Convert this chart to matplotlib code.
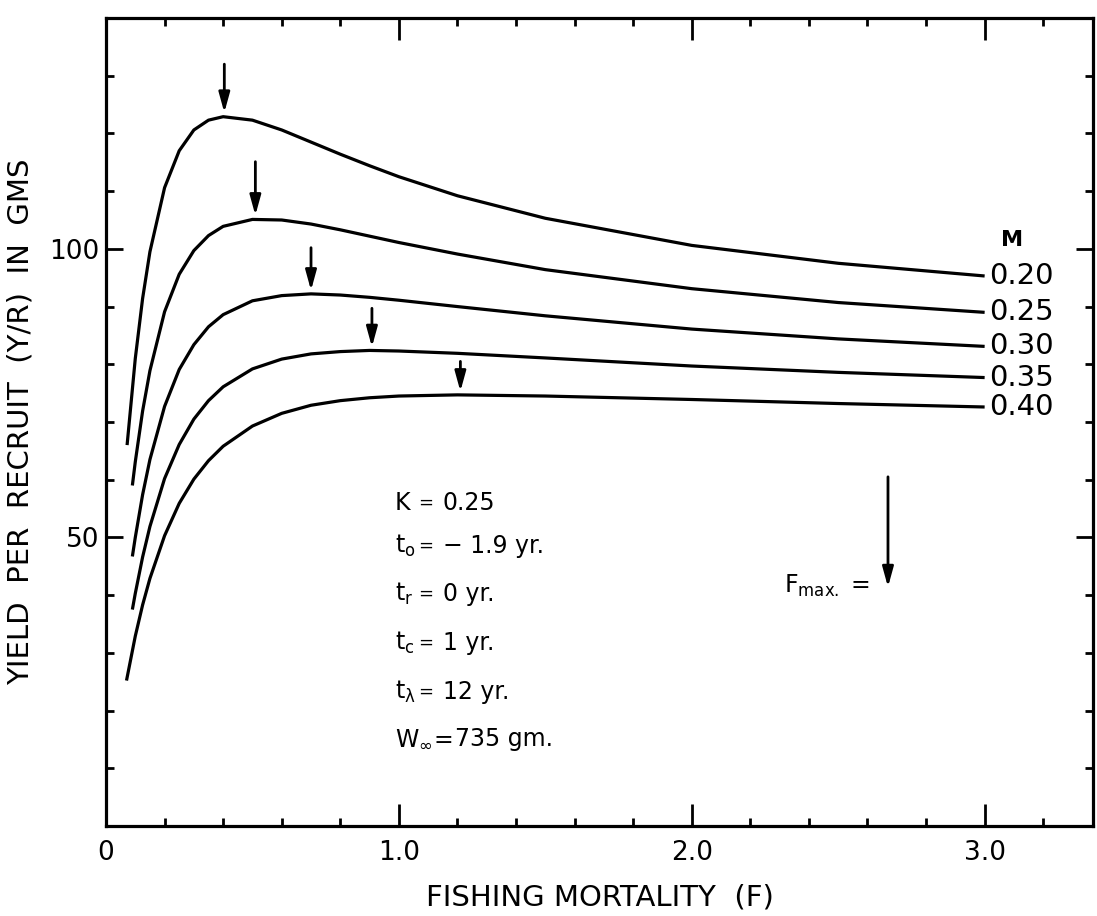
import matplotlib
matplotlib.use("Agg")
import matplotlib.pyplot as plt

# yield per recruit (Y/R, gms) against fishing mortality F, one curve per M
m_labels = ['0.20', '0.25', '0.30', '0.35', '0.40']

f_020 = [0.072, 0.1, 0.125, 0.15, 0.2, 0.25, 0.3, 0.35, 0.4, 0.5, 0.6, 0.7,
         0.8, 0.9, 1.0, 1.2, 1.5, 2.0, 2.5, 3.0]
y_020 = [66.0, 81.0, 91.4, 99.5, 110.6, 117.0, 120.6, 122.3, 122.9, 122.3, 120.6,
         118.5, 116.4, 114.4, 112.5, 109.2, 105.3, 100.6, 97.5, 95.3]

f_025 = [0.09, 0.1, 0.125, 0.15, 0.2, 0.25, 0.3, 0.35, 0.4, 0.5, 0.6, 0.7,
         0.8, 0.9, 1.0, 1.2, 1.5, 2.0, 2.5, 3.0]
y_025 = [59.0, 63.1, 71.9, 78.9, 89.1, 95.6, 99.7, 102.3, 103.9, 105.1, 105.0,
         104.3, 103.3, 102.2, 101.1, 99.1, 96.4, 93.1, 90.7, 89.0]

f_030 = [0.09, 0.1, 0.125, 0.15, 0.2, 0.25, 0.3, 0.35, 0.4, 0.5, 0.6, 0.7,
         0.8, 0.9, 1.0, 1.2, 1.5, 2.0, 2.5, 3.0]
y_030 = [46.7, 50.0, 57.4, 63.5, 72.7, 79.1, 83.4, 86.5, 88.6, 91.0, 91.9,
         92.2, 92.0, 91.6, 91.1, 90.0, 88.4, 86.1, 84.4, 83.1]

f_035 = [0.09, 0.1, 0.125, 0.15, 0.2, 0.25, 0.3, 0.35, 0.4, 0.5, 0.6, 0.7,
         0.8, 0.9, 1.0, 1.2, 1.5, 2.0, 2.5, 3.0]
y_035 = [37.5, 40.3, 46.6, 51.9, 60.2, 66.1, 70.5, 73.7, 76.1, 79.2, 80.9,
         81.8, 82.2, 82.4, 82.3, 81.9, 81.1, 79.7, 78.6, 77.7]

f_040 = [0.07, 0.1, 0.125, 0.15, 0.2, 0.25, 0.3, 0.35, 0.4, 0.5, 0.6, 0.7,
         0.8, 0.9, 1.0, 1.2, 1.5, 2.0, 2.5, 3.0]
y_040 = [25.2, 32.9, 38.3, 42.9, 50.3, 55.9, 60.1, 63.3, 65.8, 69.3, 71.5,
         72.9, 73.7, 74.2, 74.5, 74.7, 74.5, 73.9, 73.2, 72.6]

# F_max arrows above each peak
fmax_f = [0.404, 0.51, 0.70, 0.908, 1.21]
fmax_top = [132.0, 115.1, 100.2, 89.7, 80.5]
fmax_tip = [123.6, 105.8, 92.8, 83.0, 75.3]

# parameter block
param_names = ['K', '$t_o$', '$t_r$', '$t_c$', '$t_\\lambda$', '$W_\\infty$']
param_values = ['0.25', '\u2212 1.9 yr.', '0 yr.', '1 yr.', '12 yr.', '735 gm.']
param_y = [56.0, 48.5, 40.2, 31.7, 23.2, 15.1]

x_ticks = [0, 1, 2, 3]
x_ticklabels = ['0', '1.0', '2.0', '3.0']
y_ticks = [50, 100]
y_ticklabels = ['50', '100']

plt.rcParams['font.family'] = ['DejaVu Sans']
plt.rcParams['mathtext.default'] = 'regular'

fig = plt.figure(figsize=(10.97, 9.16), dpi=100)
ax = fig.add_axes([106 / 1097, 1 - 826 / 916, 987 / 1097, 808 / 916])

curves = [(f_020, y_020), (f_025, y_025), (f_030, y_030), (f_035, y_035), (f_040, y_040)]
for (f, y), lab in zip(curves, m_labels):
    ax.plot(f, y, color='black', lw=2.3, solid_capstyle='butt')
    ax.text(3.015, y[-1], lab, ha='left', va='center', fontsize=21)

ax.text(3.095, 101.5, 'M', ha='center', va='center', fontsize=16, fontweight='bold')

arrow_style = dict(arrowstyle='-|>,head_length=0.8,head_width=0.22', color='black',
                   lw=2, shrinkA=0, shrinkB=0, mutation_scale=15)
for f, top, tip in zip(fmax_f, fmax_top, fmax_tip):
    ax.annotate('', xy=(f, tip), xytext=(f, top), arrowprops=arrow_style)

for name, val, yy in zip(param_names, param_values, param_y):
    if name == '$W_\\infty$':
        ax.text(0.986, yy, name + '=', ha='left', va='center', fontsize=17)
        ax.text(1.19, yy, val, ha='left', va='center', fontsize=17)
    else:
        ax.text(0.986, yy, name, ha='left', va='center', fontsize=17)
        ax.text(1.09, yy, '=', ha='center', va='center', fontsize=13)
        ax.text(1.15, yy, val, ha='left', va='center', fontsize=17)

# legend for the arrows
ax.text(2.316, 41.6, 'F$_{max.}$ =', ha='left', va='center', fontsize=17)
ax.annotate('', xy=(2.67, 41.4), xytext=(2.67, 60.5), arrowprops=arrow_style)

ax.set_xlim(0, 3.37)
ax.set_ylim(0, 140)
ax.set_xticks(x_ticks)
ax.set_xticklabels(x_ticklabels, fontsize=19)
ax.set_xticks([0.2, 0.4, 0.6, 0.8, 1.2, 1.4, 1.6, 1.8, 2.2, 2.4, 2.6, 2.8, 3.2], minor=True)
ax.set_yticks(y_ticks)
ax.set_yticklabels(y_ticklabels, fontsize=19)
ax.set_yticks([10, 20, 30, 40, 60, 70, 80, 90, 110, 120, 130], minor=True)

ax.tick_params(which='both', direction='in', top=True, right=True, width=2, color='black')
ax.tick_params(axis='x', which='major', length=16, pad=10)
ax.tick_params(axis='x', which='minor', length=6)
ax.tick_params(axis='y', which='major', length=12, pad=5)
ax.tick_params(axis='y', which='minor', length=6)
for sp in ax.spines.values():
    sp.set_linewidth(2.3)

ax.set_xlabel('FISHING MORTALITY  (F)', fontsize=21, labelpad=13)
ax.set_ylabel('YIELD  PER  RECRUIT  (Y/R)  IN  GMS', fontsize=21, labelpad=10)

fig.savefig('out.png', dpi=100)
